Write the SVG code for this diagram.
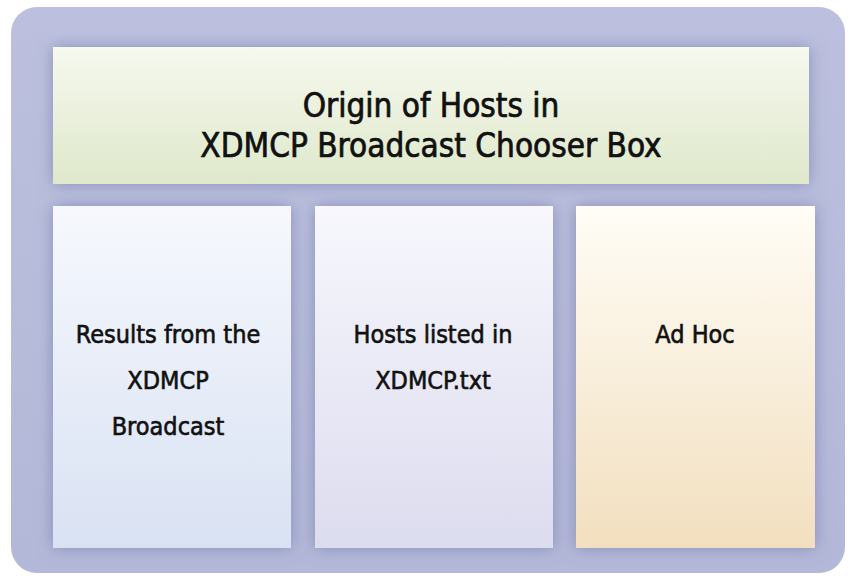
<svg xmlns="http://www.w3.org/2000/svg" width="852" height="580" viewBox="0 0 852 580">
<style>
.t{font-family:"DejaVu Sans Condensed","DejaVu Sans","Liberation Sans",sans-serif;font-stretch:condensed;fill:#111;stroke:#111;text-anchor:middle}
.h{font-size:33px;stroke-width:0.7px}
.c{font-size:25px;stroke-width:0.6px}
</style>
<defs>
<linearGradient id="gb" x1="0" y1="0" x2="0" y2="1"><stop offset="0" stop-color="#bcc0de"/><stop offset="1" stop-color="#b3b8d8"/></linearGradient>
<linearGradient id="gh" x1="0" y1="0" x2="0" y2="1"><stop offset="0" stop-color="#f6f9ee"/><stop offset="1" stop-color="#dfe8cb"/></linearGradient>
<linearGradient id="g1" x1="0" y1="0" x2="0" y2="1"><stop offset="0" stop-color="#f6f8fd"/><stop offset="1" stop-color="#d9e2f3"/></linearGradient>
<linearGradient id="g2" x1="0" y1="0" x2="0" y2="1"><stop offset="0" stop-color="#f7f7fd"/><stop offset="1" stop-color="#dcdcef"/></linearGradient>
<linearGradient id="g3" x1="0" y1="0" x2="0" y2="1"><stop offset="0" stop-color="#fffdf6"/><stop offset="1" stop-color="#f2dfbf"/></linearGradient>
<filter id="sh2" x="-10%" y="-10%" width="120%" height="120%"><feGaussianBlur in="SourceAlpha" stdDeviation="8" result="b"/><feFlood flood-color="#6a70a0" flood-opacity="0.6"/><feComposite operator="in" in2="b"/><feMerge><feMergeNode/><feMergeNode in="SourceGraphic"/></feMerge></filter>
</defs>
<rect x="0" y="0" width="852" height="580" fill="#fff"/>
<rect id="frame" x="11" y="7" width="834" height="566" rx="26" fill="url(#gb)"/>
<g id="header">
<rect x="53" y="47" width="756" height="137" fill="url(#gh)" filter="url(#sh2)"/>
<text class="t h" x="431" y="117">Origin of Hosts in</text>
<text class="t h" x="431" y="157">XDMCP Broadcast Chooser Box</text>
</g>
<g id="col1">
<rect x="53" y="206" width="238" height="342" fill="url(#g1)" filter="url(#sh2)"/>
<text class="t c" x="168" y="343">Results from the</text>
<text class="t c" x="168" y="389">XDMCP</text>
<text class="t c" x="168" y="435">Broadcast</text>
</g>
<g id="col2">
<rect x="315" y="206" width="238" height="342" fill="url(#g2)" filter="url(#sh2)"/>
<text class="t c" x="433" y="343">Hosts listed in</text>
<text class="t c" x="433" y="389">XDMCP.txt</text>
</g>
<g id="col3">
<rect x="576" y="206" width="239" height="342" fill="url(#g3)" filter="url(#sh2)"/>
<text class="t c" x="695" y="343">Ad Hoc</text>
</g>
<g id="connectors"/>
</svg>
